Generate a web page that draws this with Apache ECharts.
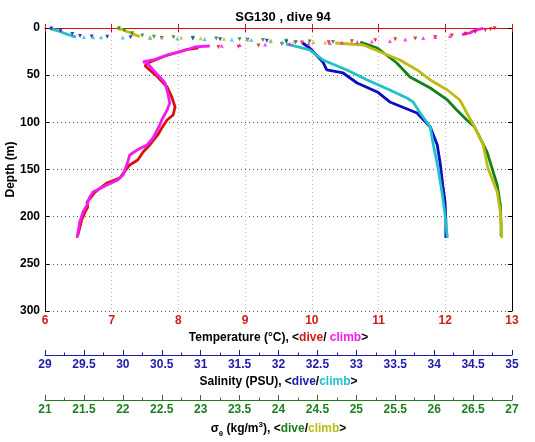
<!DOCTYPE html>
<html><head><meta charset="utf-8">
<script src="https://cdn.jsdelivr.net/npm/echarts@6/dist/echarts.min.js"></script>
<style>html,body{margin:0;padding:0;background:#fff}#c{width:535px;height:442px}</style>
</head><body><div id="c"></div>
<script>
// ---- data: [value, depth(m)] ----
const tempTicks = [6,7,8,9,10,11,12,13];
const salTicks = [29,29.5,30,30.5,31,31.5,32,32.5,33,33.5,34,34.5,35];
const sigTicks = [21,21.5,22,22.5,23,23.5,24,24.5,25,25.5,26,26.5,27];
const depthTicks = [0,50,100,150,200,250,300];

const tempDiveDots = [[12.74,0.3],[12.68,1.2],[12.6,2.5],[12.45,4.5],[12.3,6],[12.1,8],[11.85,9.5],[11.55,11],[11.25,12],[10.95,13],[10.6,14],[10.25,15.2],[9.85,15.5],[9.55,17],[9.2,18.5],[8.9,19.8],[8.6,20.2]];
const tempDiveLine = [[8.3,21],[8.1,23.3],[7.8,29.7],[7.54,37.1],[7.5,40.3],[7.57,44.5],[7.69,51.9],[7.83,62.5],[7.9,73.1],[7.95,83.7],[7.92,92.2],[7.83,97.5],[7.75,106],[7.69,113.4],[7.57,124],[7.47,131.5],[7.39,139.9],[7.27,145.2],[7.12,159],[6.93,164.3],[6.75,173.9],[6.63,184.5],[6.64,189.8],[6.6,195.1],[6.55,203.5],[6.52,212],[6.49,220.5]];
const tempClimbDots = [[12.07,8.5],[11.85,9.5],[11.67,10.6],[11.4,12.2],[11.17,13.8],[10.9,14.2],[10.68,14.8],[10.45,15.3],[10.27,15.9],[9.95,16.5],[9.67,17],[9.3,17.5],[8.92,18],[8.65,18.8]];
const tempClimbLine = [[12.57,0.3],[12.5,1.5],[12.42,3.2],[12.37,5.3],[12.25,7]];
const tempClimbDeep = [[8.47,19.1],[8.25,20.1],[8.02,25.4],[7.83,28.6],[7.62,33.9],[7.47,36],[7.53,37.1],[7.62,44.5],[7.72,51.9],[7.8,58.3],[7.84,68.9],[7.87,79.5],[7.83,86.9],[7.75,97.5],[7.72,102.8],[7.62,116.6],[7.53,124],[7.38,129.3],[7.27,134.6],[7.24,142.1],[7.17,155.8],[7.09,161.1],[6.93,166.4],[6.72,173.9],[6.67,179.2],[6.63,187.6],[6.57,195.1],[6.52,205.7],[6.48,222.6]];

const salDiveDots = [[29.08,0.5],[29.2,3],[29.35,6.4],[29.45,8.5],[29.6,9],[29.8,9.4],[30.1,9.8],[30.5,10.5],[30.9,11.2],[31.25,11.8],[31.6,12.5],[31.85,13.5],[32.1,14.5],[32.22,15]];
const salDiveLine = [[32.31,15.9],[32.4,21.2],[32.57,36],[32.62,44.5],[32.83,47.7],[33.01,58.3],[33.27,67.8],[33.43,78.4],[33.78,90.1],[33.95,105],[34.04,124],[34.08,145],[34.11,166.4],[34.14,184.5],[34.15,203.5],[34.15,222.6]];
const salClimbLine = [[29.06,0.5],[29.12,2],[29.2,4],[29.28,6.5],[29.35,8.5],[29.4,9.3]];
const salClimbDots = [[29.5,9.6],[29.62,9.7],[29.72,9.8],[30.0,10.2],[30.35,10.6],[30.7,11],[31.05,11.6],[31.4,12.2],[31.65,12.8],[31.9,14],[32.05,15]];
const salClimbDeep = [[32.1,16.8],[32.15,18],[32.4,23.3],[32.57,33.9],[32.88,44.5],[33.14,55.1],[33.43,65.7],[33.65,74.2],[33.73,78.4],[33.82,90.1],[33.95,105],[33.99,124],[34.05,148.4],[34.1,173.9],[34.14,198.2],[34.17,222.6]];

const sigDiveDots = [[21.95,0.3],[22.02,2],[22.12,5.5],[22.25,8],[22.4,9.2],[22.65,9.7],[22.9,10.3],[23.2,11],[23.5,11.8],[23.8,12.6],[24.1,13.5],[24.4,14.3],[24.7,14.8]];
const sigDiveLine = [[25.05,14.8],[25.27,21.2],[25.52,37.1],[25.69,51.9],[25.95,63.6],[26.17,76.3],[26.29,86.9],[26.42,97.5],[26.52,105],[26.68,131.5],[26.81,166.4],[26.85,187.6],[26.86,208.8],[26.86,220.5]];
const sigClimbLine = [[21.93,0.3],[22.0,2],[22.08,4.5],[22.15,7],[22.22,9]];
const sigClimbDots = [[22.35,9.5],[22.5,9.8],[22.75,10.2],[23.0,10.8],[23.3,11.5],[23.6,12.3],[23.9,13],[24.2,14],[24.45,14.8],[24.6,15.5]];
const sigClimbDeep = [[24.73,15.9],[25.09,18],[25.34,26.5],[25.56,33.9],[25.78,44.5],[25.95,55.1],[26.17,65.7],[26.33,76.3],[26.42,90.1],[26.52,105],[26.63,124],[26.69,148.4],[26.76,163.3],[26.81,173.9],[26.85,195.1],[26.87,222.6]];

// ---- styling ----
const FONT = 'Liberation Sans';
const RED = '#d81010', MAG = '#f21cf2', BLUE = '#0c0cc0', CYAN = '#22c0c8', GREEN = '#16801a', OLIVE = '#bcbc14';
const RED_T = '#d41a1a', BLUE_T = '#1c1ca8', GREEN_T = '#1e7e1e';

function lineS(data, color, xi){
  return {type:'line', data, xAxisIndex:xi, yAxisIndex:0, symbol:'none', lineStyle:{color, width:2.8}, animation:false, z:3};
}
function dotS(data, color, xi, down){
  return {type:'scatter', data, xAxisIndex:xi, yAxisIndex:0, symbol:'triangle', symbolRotate: down?180:0, symbolSize:4, itemStyle:{color}, animation:false, z:4};
}
const nameStyle = {fontFamily:FONT, fontWeight:'bold', fontSize:12, color:'#000'};
function rich(extra){
  const base = {k:{fontFamily:FONT,fontWeight:'bold',fontSize:12,color:'#000'}};
  for (const key in extra) base[key] = Object.assign({fontFamily:FONT,fontWeight:'bold',fontSize:12}, extra[key]);
  return base;
}

const chart = echarts.init(document.getElementById('c'), null, {renderer:'canvas'});
chart.setOption({
  backgroundColor:'#fff',
  animation:false,
  title:{text:'SG130 , dive 94', left:278, top:6, textAlign:'center',
    textStyle:{fontFamily:FONT, fontWeight:'bold', fontSize:13, color:'#000'}},
  grid:{left:45, right:23, top:28, bottom:131, containLabel:false, outerBoundsMode:'none'},
  xAxis:[
    {type:'value', position:'bottom', min:6, max:13, interval:1,
     axisLine:{show:true, lineStyle:{color:RED, width:1}},
     axisTick:{show:true, inside:true, length:4, lineStyle:{color:RED}},
     axisLabel:{color:RED_T, fontFamily:FONT, fontWeight:'bold', fontSize:12, margin:4, formatter:v=>tempTicks.includes(v)?String(v):''},
     splitLine:{show:true, lineStyle:{color:'#d8a8a8', type:[1,3], width:1}},
     name:'{k|Temperature (°C), <}{r|dive}{k|/ }{m|climb}{k|>}', nameLocation:'middle', nameGap:20,
     nameTextStyle:Object.assign({}, nameStyle, {rich:rich({r:{color:RED_T}, m:{color:MAG}})})},
    {type:'value', position:'top', min:6, max:13, interval:1,
     axisLine:{show:true, lineStyle:{color:RED, width:1}},
     axisTick:{show:true, inside:true, length:4, lineStyle:{color:RED}},
     axisLabel:{show:false}, splitLine:{show:false}},
    {type:'value', position:'bottom', offset:44, min:29, max:35, interval:0.5,
     axisLine:{show:true, lineStyle:{color:BLUE_T, width:1}},
     axisTick:{show:true, inside:true, length:5, lineStyle:{color:BLUE_T}},
     minorTick:{show:true, splitNumber:2, length:2.5, lineStyle:{color:BLUE_T}},
     axisLabel:{color:BLUE_T, fontFamily:FONT, fontWeight:'bold', fontSize:12, margin:4, formatter:v=>salTicks.includes(v)?String(v):''},
     splitLine:{show:false},
     name:'{k|Salinity (PSU), <}{b|dive}{k|/}{c|climb}{k|>}', nameLocation:'middle', nameGap:21,
     nameTextStyle:Object.assign({}, nameStyle, {rich:rich({b:{color:BLUE_T}, c:{color:CYAN}})})},
    {type:'value', position:'bottom', offset:89, min:21, max:27, interval:0.5,
     axisLine:{show:true, lineStyle:{color:GREEN_T, width:1}},
     axisTick:{show:true, inside:true, length:5, lineStyle:{color:GREEN_T}},
     minorTick:{show:true, splitNumber:2, length:2.5, lineStyle:{color:GREEN_T}},
     axisLabel:{color:GREEN_T, fontFamily:FONT, fontWeight:'bold', fontSize:12, margin:4, formatter:v=>sigTicks.includes(v)?String(v):''},
     splitLine:{show:false},
     name:'{k|σ}{sub|θ}{k| (kg/m}{sup|3}{k|), <}{g|dive}{k|/}{y|climb}{k|>}', nameLocation:'middle', nameGap:20,
     nameTextStyle:Object.assign({}, nameStyle, {rich:rich({
       g:{color:GREEN_T}, y:{color:OLIVE},
       sub:{fontSize:8, color:'#000', padding:[9,0,0,0]},
       sup:{fontSize:8, color:'#000', padding:[0,0,8,0]}})})}
  ],
  yAxis:[
    {type:'value', inverse:true, min:0, max:300, interval:50, position:'left',
     axisLine:{show:true, lineStyle:{color:'#000', width:1}},
     axisTick:{show:true, inside:true, length:4, lineStyle:{color:'#000'}},
     axisLabel:{color:'#000', fontFamily:FONT, fontWeight:'bold', fontSize:12, margin:5, formatter:v=>depthTicks.includes(v)?String(v):''},
     splitLine:{show:true, lineStyle:{color:'#555', type:[1,3], width:1}},
     name:'Depth (m)', nameLocation:'middle', nameGap:28, nameRotate:90, nameMoveOverlap:false,
     nameTextStyle:nameStyle},
    {type:'value', inverse:true, min:0, max:300, interval:50, position:'right',
     axisLine:{show:true, lineStyle:{color:'#000', width:1}},
     axisTick:{show:true, inside:true, length:4, lineStyle:{color:'#000'}},
     axisLabel:{show:false}, splitLine:{show:false}}
  ],
  series:[
    dotS(tempDiveDots, RED, 0, true), lineS(tempDiveLine, RED, 0),
    dotS(salDiveDots, BLUE, 2, true), lineS(salDiveLine, BLUE, 2),
    dotS(sigDiveDots, GREEN, 3, true), lineS(sigDiveLine, GREEN, 3),
    lineS(tempClimbLine, MAG, 0), dotS(tempClimbDots, MAG, 0, false), lineS(tempClimbDeep, MAG, 0),
    lineS(salClimbLine, CYAN, 2), dotS(salClimbDots, CYAN, 2, false), lineS(salClimbDeep, CYAN, 2),
    lineS(sigClimbLine, OLIVE, 3), dotS(sigClimbDots, OLIVE, 3, false), lineS(sigClimbDeep, OLIVE, 3)
  ]
});
</script></body></html>
